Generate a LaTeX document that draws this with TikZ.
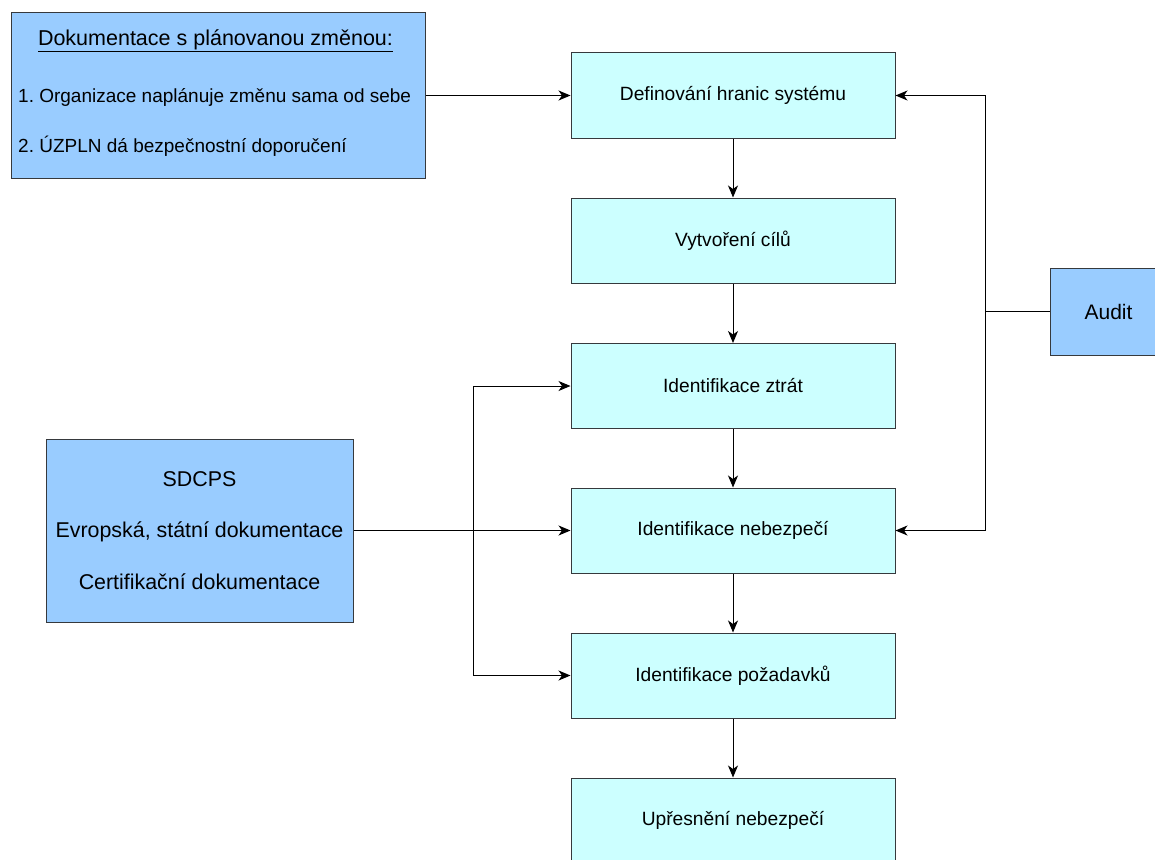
\documentclass[tikz,border=0pt]{standalone}
\usepackage{fontspec}
\setmainfont{Liberation Sans}
\usetikzlibrary{arrows.meta}
\definecolor{bluebox}{HTML}{99CCFF}
\definecolor{cyanbox}{HTML}{CCFFFF}
\definecolor{edgec}{HTML}{36393D}
\frenchspacing
\begin{document}
\begin{tikzpicture}[x=1pt,y=-1pt,
  blk/.style={draw=edgec, line width=1pt, fill=cyanbox, minimum width=324pt, minimum height=85pt, inner sep=0pt, font=\fontsize{19.2}{22}\selectfont},
  src/.style={draw=edgec, line width=1pt, fill=bluebox, inner sep=0pt},
  conn/.style={draw=black, line width=1pt, -{Stealth[length=12pt,width=10pt,inset=3.5pt]}},
  wire/.style={draw=black, line width=1pt}]
\useasboundingbox (0,0) rectangle (1155,859);
\clip (0,0) rectangle (1155,859);
% source boxes
\node[src, minimum width=414pt, minimum height=165pt] (doc) at (218,95.5) {};
\node[inner sep=0pt, font=\fontsize{21.5}{24}\selectfont] (doctitle) at (215.5,41) {\underline{Dokumentace s plánovanou změnou:}};
\node[inner sep=0pt, anchor=west, font=\fontsize{19}{22}\selectfont] (docone) at (18,97) {1. Organizace naplánuje změnu sama od sebe};
\node[inner sep=0pt, anchor=west, font=\fontsize{19}{22}\selectfont] (doctwo) at (18,146) {2. ÚZPLN dá bezpečnostní doporučení};
\node[src, minimum width=307pt, minimum height=183pt, align=center, font=\fontsize{21.4}{51.5}\selectfont] (sd) at (199.5,530.5) {SDCPS\\Evropská, státní dokumentace\\Certifikační dokumentace};
\node[src, minimum width=117pt, minimum height=87pt, font=\fontsize{21}{24}\selectfont] (audit) at (1108.5,311.5) {Audit};
% main column
\node[blk] (b1) at (733,95.5) {Definování hranic systému};
\node[blk] (b2) at (733,240.5) {Vytvoření cílů};
\node[blk] (b3) at (733,386) {Identifikace ztrát};
\node[blk] (b4) at (733,530.5) {Identifikace nebezpečí};
\node[blk] (b5) at (733,675.5) {Identifikace požadavků};
\node[blk] (b6) at (733,820.5) {Upřesnění nebezpečí};
% connectors
\draw[conn] (doc.east) -- (b1.west);
\draw[conn] (b1.south) -- (b2.north);
\draw[conn] (b2.south) -- (b3.north);
\draw[conn] (b3.south) -- (b4.north);
\draw[conn] (b4.south) -- (b5.north);
\draw[conn] (b5.south) -- (b6.north);
\coordinate (aj) at (985,311.5);
\draw[wire] (audit.west) -- (aj);
\draw[conn] (aj) |- (b1.east);
\draw[conn] (aj) |- (b4.east);
\coordinate (sj) at (473,530.5);
\draw[conn] (sd.east) -- (b4.west);
\draw[conn] (sj) |- (b3.west);
\draw[conn] (sj) |- (b5.west);
\end{tikzpicture}
\end{document}
